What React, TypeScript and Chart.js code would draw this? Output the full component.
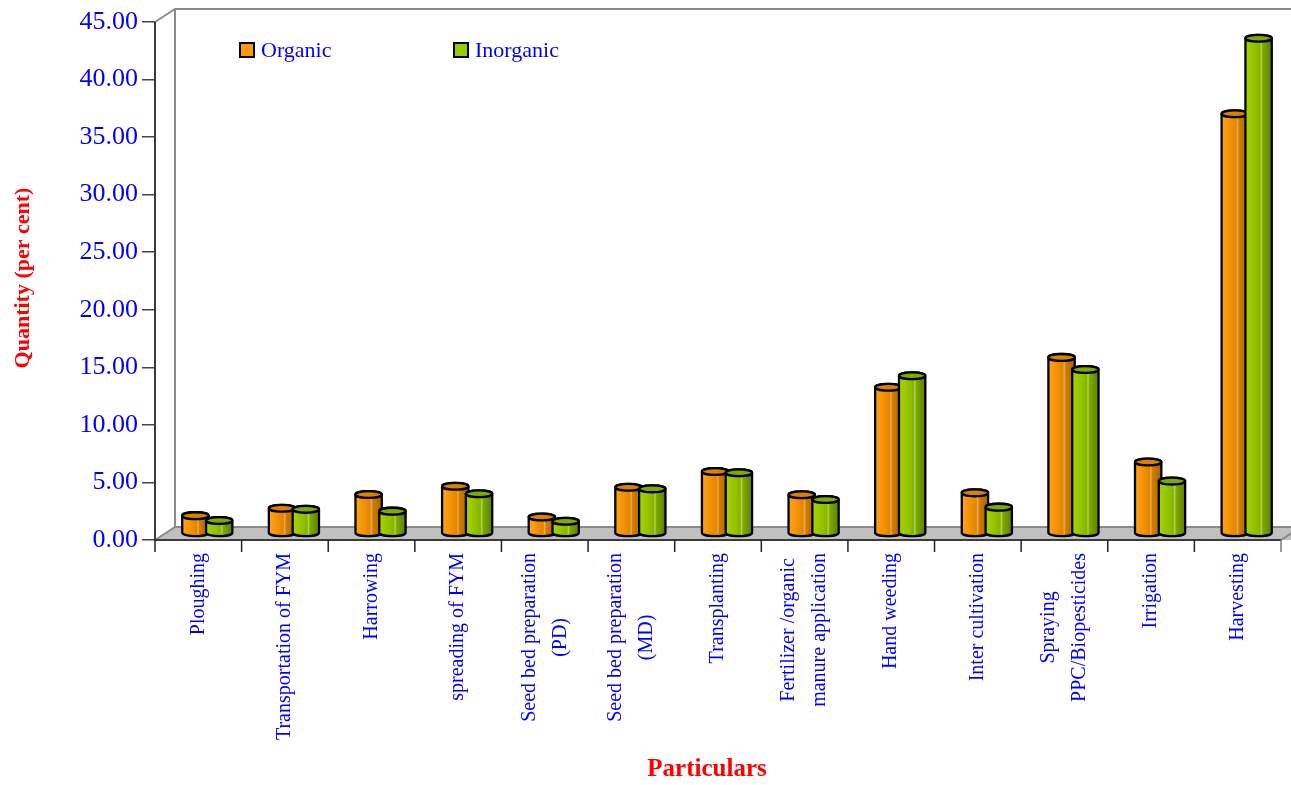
import React, { useEffect, useRef } from "react";
import { Chart, registerables } from "chart.js";

Chart.register(...registerables);

// Field operations (multi-line entries are stacked when drawn)
const categories: string[][] = [
  ["Ploughing"],
  ["Transportation of FYM"],
  ["Harrowing"],
  ["spreading of FYM"],
  ["Seed bed preparation", "(PD)"],
  ["Seed bed preparation", "(MD)"],
  ["Transplanting"],
  ["Fertilizer /organic", "manure application"],
  ["Hand weeding"],
  ["Inter cultivation"],
  ["Spraying", "PPC/Biopesticides"],
  ["Irrigation"],
  ["Harvesting"],
];

// Share of labour per operation (per cent)
const organic = [1.55, 2.2, 3.39, 4.1, 1.43, 4.02, 5.39, 3.37, 12.71, 3.53, 15.3, 6.21, 36.47];
const inorganic = [1.13, 2.1, 1.94, 3.45, 1.07, 3.88, 5.28, 2.95, 13.71, 2.29, 14.25, 4.55, 43.03];

const seriesNames = ["Organic", "Inorganic"];

const Y_MIN = 0;
const Y_MAX = 45;
const Y_STEP = 5;

const SERIF = "'Liberation Serif', 'Times New Roman', serif";
const BLUE = "#0000ff";
const RED = "#ff0000";

// 3D box depth
const DEPTH_X = 20;
const DEPTH_Y = 13;

type Palette = { stops: [number, string][]; top: string; swatch: string };

const palettes: Palette[] = [
  {
    stops: [
      [0, "#ffa41f"],
      [0.35, "#f29000"],
      [0.55, "#e08600"],
      [0.6, "#eeaa55"],
      [0.66, "#d17e00"],
      [1, "#a86500"],
    ],
    top: "#d98200",
    swatch: "#ff9900",
  },
  {
    stops: [
      [0, "#a6d400"],
      [0.35, "#93c300"],
      [0.55, "#86b400"],
      [0.6, "#b0d650"],
      [0.66, "#7ea800"],
      [1, "#5c8200"],
    ],
    top: "#7fab00",
    swatch: "#99cc00",
  },
];

function drawCylinder(
  ctx: CanvasRenderingContext2D,
  cx: number,
  top: number,
  base: number,
  w: number,
  pal: Palette
) {
  const rx = w / 2;
  const ry = 3.4;
  const grad = ctx.createLinearGradient(cx - rx, 0, cx + rx, 0);
  pal.stops.forEach(([o, c]) => grad.addColorStop(o, c));

  ctx.save();
  ctx.lineWidth = 2.3;
  ctx.strokeStyle = "#000";
  ctx.lineJoin = "round";

  ctx.beginPath();
  ctx.moveTo(cx - rx, top);
  ctx.lineTo(cx - rx, base);
  ctx.ellipse(cx, base, rx, ry, 0, Math.PI, 0, true);
  ctx.lineTo(cx + rx, top);
  ctx.ellipse(cx, top, rx, ry, 0, 0, Math.PI, true);
  ctx.closePath();
  ctx.fillStyle = grad;
  ctx.fill();
  ctx.stroke();

  ctx.beginPath();
  ctx.ellipse(cx, top, rx, ry, 0, 0, Math.PI * 2);
  ctx.fillStyle = pal.top;
  ctx.fill();
  ctx.stroke();
  ctx.restore();
}

const scene3d = {
  id: "scene3d",
  beforeDatasetsDraw(chart: any) {
    const { ctx, chartArea: a } = chart;
    const x = chart.scales.x;
    const L = a.left;
    const R = a.right;
    const T = a.top;
    const B = a.bottom;

    ctx.save();
    // floor
    ctx.beginPath();
    ctx.moveTo(L, B);
    ctx.lineTo(L + DEPTH_X, B - DEPTH_Y);
    ctx.lineTo(R + DEPTH_X + 10, B - DEPTH_Y);
    ctx.lineTo(R + 10, B);
    ctx.closePath();
    ctx.fillStyle = "#c0c0c0";
    ctx.fill();

    // back edges
    ctx.strokeStyle = "#8a8a8a";
    ctx.lineWidth = 2;
    ctx.beginPath();
    ctx.moveTo(L, T);
    ctx.lineTo(L + DEPTH_X, T - DEPTH_Y);
    ctx.lineTo(R + DEPTH_X + 10, T - DEPTH_Y);
    ctx.moveTo(L + DEPTH_X, T - DEPTH_Y);
    ctx.lineTo(L + DEPTH_X, B - DEPTH_Y);
    ctx.lineTo(R + DEPTH_X + 10, B - DEPTH_Y);
    ctx.moveTo(L, B);
    ctx.lineTo(L + DEPTH_X, B - DEPTH_Y);
    ctx.moveTo(R, B);
    ctx.lineTo(R + DEPTH_X, B - DEPTH_Y);
    ctx.stroke();

    // front axis lines
    ctx.strokeStyle = "#3a3a3a";
    ctx.lineWidth = 2;
    ctx.beginPath();
    ctx.moveTo(L, T);
    ctx.lineTo(L, B);
    ctx.lineTo(R, B);
    ctx.stroke();

    // category separators below the floor
    const n = chart.data.labels.length;
    const step = (R - L) / n;
    ctx.lineWidth = 1.5;
    for (let i = 0; i <= n; i++) {
      const px = i === n ? R : x.getPixelForValue(i) - step / 2;
      ctx.strokeStyle = i === n ? "#777" : "#222";
      ctx.beginPath();
      ctx.moveTo(px, B);
      ctx.lineTo(px, B + 12);
      ctx.stroke();
    }
    ctx.restore();
  },
  afterDatasetsDraw(chart: any) {
    const { ctx } = chart;
    const dx = 9;
    const dy = -6.5;
    const n = chart.data.labels.length;
    for (let i = 0; i < n; i++) {
      chart.data.datasets.forEach((_: any, d: number) => {
        const el = chart.getDatasetMeta(d).data[i];
        if (!el) return;
        drawCylinder(ctx, el.x + dx, el.y + dy, el.base + dy, el.width + 2.5, palettes[d]);
      });
    }
  },
  afterDraw(chart: any) {
    const { ctx, chartArea: a } = chart;
    const x = chart.scales.x;
    ctx.save();

    // category labels, rotated
    ctx.fillStyle = BLUE;
    ctx.font = `20px ${SERIF}`;
    ctx.textBaseline = "middle";
    ctx.textAlign = "center";
    const topY = a.bottom + 13;
    const lineGap = 31;
    categories.forEach((lines, i) => {
      const cx = x.getPixelForValue(i);
      const maxW = Math.max(...lines.map((s) => ctx.measureText(s).width));
      ctx.save();
      ctx.translate(cx, topY + maxW / 2);
      ctx.rotate(-Math.PI / 2);
      lines.forEach((s, k) => {
        ctx.fillText(s, 0, (k - (lines.length - 1) / 2) * lineGap);
      });
      ctx.restore();
    });

    // legend
    const legendX = [a.left + 85, a.left + 299];
    ctx.font = `22px ${SERIF}`;
    ctx.textAlign = "left";
    ctx.textBaseline = "middle";
    seriesNames.forEach((name, d) => {
      const bx = legendX[d];
      const by = a.top + 21;
      ctx.fillStyle = palettes[d].swatch;
      ctx.fillRect(bx, by, 14, 14);
      ctx.strokeStyle = "#000";
      ctx.lineWidth = 2;
      ctx.strokeRect(bx, by, 14, 14);
      ctx.fillStyle = BLUE;
      ctx.fillText(name, bx + 21, by + 8);
    });

    // axis titles
    ctx.fillStyle = RED;
    ctx.font = `bold 22px ${SERIF}`;
    ctx.textAlign = "center";
    ctx.save();
    ctx.translate(23, (a.top + a.bottom) / 2 - 3);
    ctx.rotate(-Math.PI / 2);
    ctx.fillText("Quantity (per cent)", 0, 0);
    ctx.restore();

    ctx.font = `bold 25px ${SERIF}`;
    ctx.fillText("Particulars", 707, 770);
    ctx.restore();
  },
};

export default function App() {
  const canvasRef = useRef<HTMLCanvasElement | null>(null);

  useEffect(() => {
    const canvas = canvasRef.current;
    if (!canvas) return;
    const chart = new Chart(canvas, {
      type: "bar",
      data: {
        labels: categories.map((c) => c.join(" ")),
        datasets: [
          {
            label: seriesNames[0],
            data: organic,
            backgroundColor: "rgba(0,0,0,0)",
            borderWidth: 0,
          },
          {
            label: seriesNames[1],
            data: inorganic,
            backgroundColor: "rgba(0,0,0,0)",
            borderWidth: 0,
          },
        ],
      },
      options: {
        animation: false,
        responsive: false,
        layout: { padding: { top: 22, right: 10, left: 0, bottom: 0 } },
        datasets: { bar: { categoryPercentage: 0.55, barPercentage: 1 } },
        plugins: {
          legend: { display: false },
          tooltip: { enabled: false },
        },
        scales: {
          x: {
            grid: { display: false },
            border: { display: false },
            ticks: { display: false },
            afterFit: (s: any) => {
              s.height = 245;
            },
          },
          y: {
            min: Y_MIN,
            max: Y_MAX,
            border: { display: false },
            grid: {
              drawOnChartArea: false,
              tickLength: 13,
              color: "#444",
              lineWidth: 1.5,
            },
            ticks: {
              stepSize: Y_STEP,
              padding: 4,
              color: BLUE,
              font: { family: SERIF, size: 26 },
              callback: (v: any) => Number(v).toFixed(2),
            },
            afterFit: (s: any) => {
              s.width = 155;
            },
          },
        },
      },
      plugins: [scene3d],
    });
    return () => chart.destroy();
  }, []);

  return (
    <div style={{ position: "absolute", left: 0, top: 0, width: 1291, height: 785, background: "#fff" }}>
      <canvas ref={canvasRef} width={1291} height={785} style={{ display: "block" }} />
    </div>
  );
}
